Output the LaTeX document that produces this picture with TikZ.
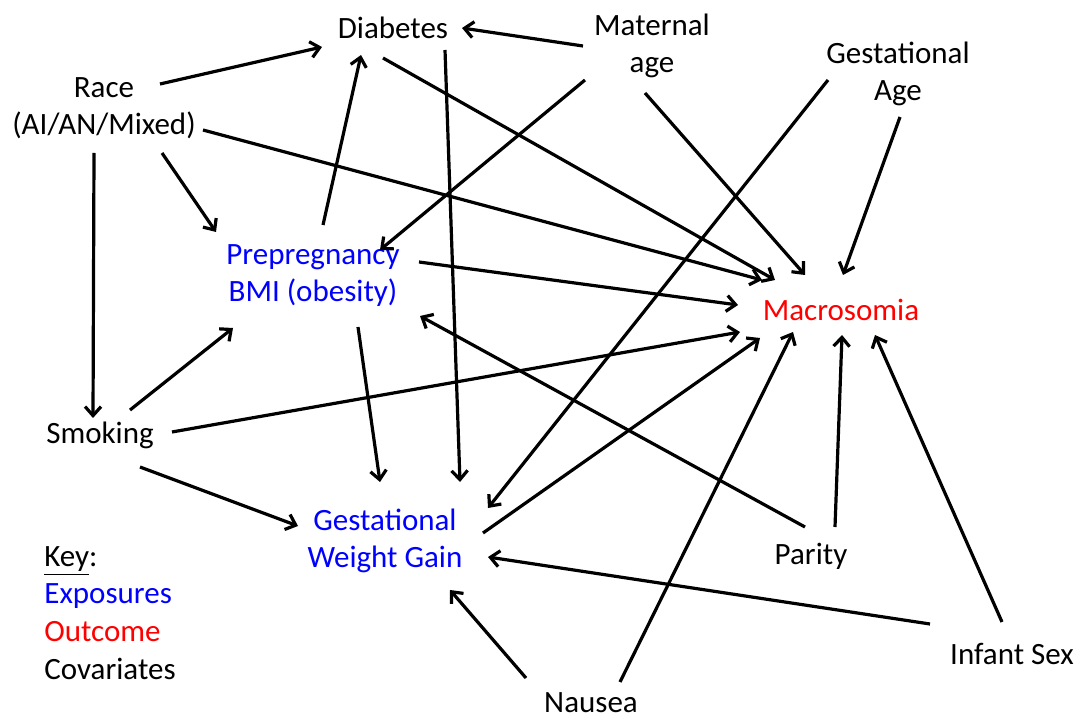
\documentclass[tikz,border=0pt]{standalone}
\usepackage{fontspec}
\setmainfont{Carlito}
\usetikzlibrary{arrows.meta}
\definecolor{azul}{rgb}{0,0,1}
\definecolor{rojo}{rgb}{1,0,0}

\begin{document}
\begin{tikzpicture}[x=0.5pt,y=-0.5pt,
  every node/.style={font=\fontsize{15.5}{18.5}\selectfont,align=center,inner sep=0pt},
  flecha/.style={line width=1.6pt,-{Straight Barb[length=4.5pt,width=8pt]}}]
  \useasboundingbox (0,0) rectangle (1081,721);

  % variables
  \node (dia) at (393,28) {Diabetes};
  \node (mat) at (652,46) {Maternal\\age};
  \node (gage) at (898,74) {Gestational\\Age};
  \node (race) at (104,108) {Race\\(AI/AN/Mixed)};
  \node[text=azul] (bmi) at (313,276) {Prepregnancy\\BMI (obesity)};
  \node[text=rojo] (mac) at (841,310) {Macrosomia};
  \node (smk) at (100,435) {Smoking};
  \node[text=azul] (gwg) at (385,541) {Gestational\\Weight Gain};
  \node (par) at (811,556) {Parity};
  \node (sex) at (1012,654) {Infant Sex};
  \node (nau) at (591,703) {Nausea};

  % leyenda
  \node[anchor=north west,align=left,font=\fontsize{15.5}{18.8}\selectfont] (key) at (44,546)
    {\underline{Key}:\\\textcolor{azul}{Exposures}\\\textcolor{rojo}{Outcome}\\Covariates};

  % flechas
  \foreach \a/\ax/\ay/\b/\bx/\by in {
      race/56/-24/dia/-71/19, mat/-69/0/dia/69/0, race/99/22/mac/-79/-30,
      race/58/45/bmi/-97/-44, race/-10/45/smk/-7/-17, dia/-10/30/mac/-66/-30,
      dia/52/22/gwg/75/-59, mat/-67/34/bmi/67/-26, mat/-7/47/mac/-36/-35,
      gage/2/43/mac/2/-35, gage/-70/6/gwg/103/-33, bmi/10/-51/dia/-32/27,
      bmi/106/-14/mac/-103/-5, bmi/45/51/gwg/-5/-59, smk/30/-25/bmi/-80/52,
      smk/72/-3/mac/-101/22, smk/40/32/gwg/-87/-15, gwg/98/-8/mac/-81/28,
      par/-6/-29/bmi/107/40, par/24/-29/mac/1/25, nau/29/-21/mac/-48/22,
      nau/-65/-25/gwg/65/49, sex/-82/-30/gwg/103/16, sex/-10/-32/mac/34/25}
    \draw[flecha] ([shift={(\ax,\ay)}]\a.center) -- ([shift={(\bx,\by)}]\b.center);
\end{tikzpicture}
\end{document}
